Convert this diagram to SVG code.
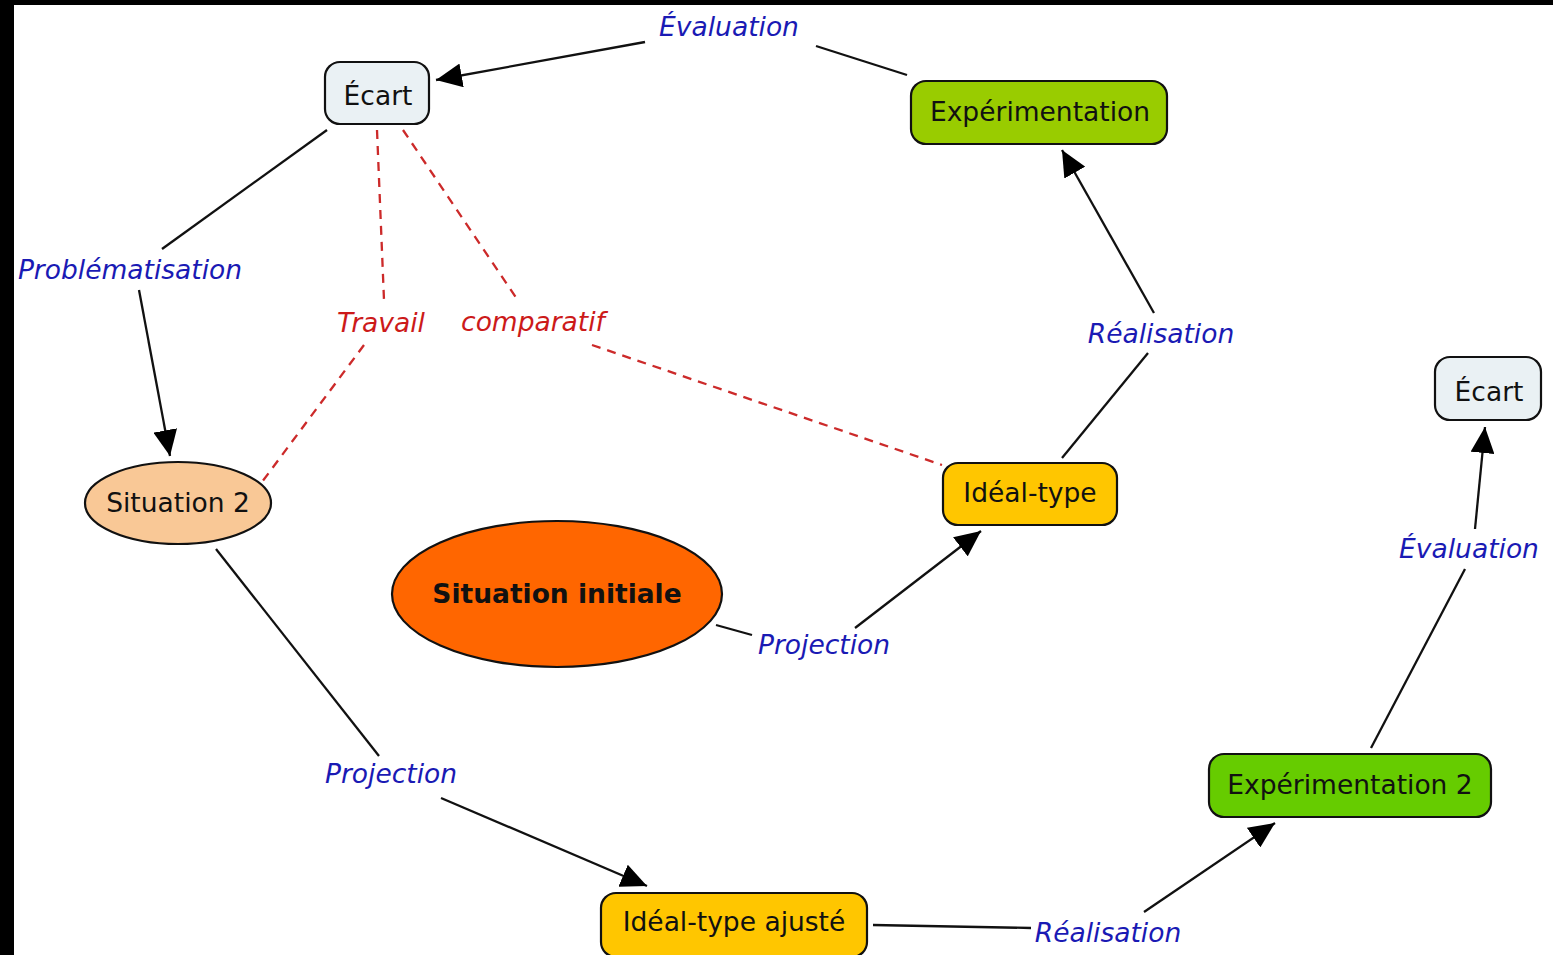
<svg xmlns="http://www.w3.org/2000/svg" width="1553" height="955" viewBox="0 0 1553 955">
<style>
.node{stroke:#111;stroke-width:2.2}
.nt{font-family:"DejaVu Sans","Verdana",sans-serif;font-size:26.5px;fill:#111;text-anchor:middle}
.lbl{font-family:"DejaVu Sans","Verdana",sans-serif;font-size:26.5px;font-style:italic;fill:#1a1ab4;text-anchor:middle}
.rl{font-family:"DejaVu Sans","Verdana",sans-serif;font-size:26.5px;font-style:italic;fill:#cc1a1a;text-anchor:middle}
.ln{stroke:#111;stroke-width:2.3;fill:none}
.dl{stroke:#cc2a2a;stroke-width:2.3;fill:none;stroke-dasharray:9 7}
</style>
<defs>
<marker id="ah" markerUnits="userSpaceOnUse" markerWidth="26" markerHeight="24" viewBox="0 0 26 24" refX="26" refY="12" orient="auto">
<path d="M0,0 L26,12 L0,24 z" fill="#000"/>
</marker>
</defs>
<rect x="0" y="0" width="1553" height="955" fill="#fff"/>
<rect x="0" y="0" width="1553" height="5" fill="#000"/>
<rect x="0" y="0" width="14" height="955" fill="#000"/>

<g id="connectors">
<line class="ln" x1="907" y1="75" x2="816" y2="46"/>
<line class="ln" x1="645" y1="42" x2="436" y2="80" marker-end="url(#ah)"/>
<line class="ln" x1="327" y1="130" x2="162" y2="249"/>
<line class="ln" x1="139" y1="290" x2="170" y2="456" marker-end="url(#ah)"/>
<line class="ln" x1="216" y1="549" x2="379" y2="756"/>
<line class="ln" x1="441" y1="798" x2="647" y2="886" marker-end="url(#ah)"/>
<line class="ln" x1="873" y1="925" x2="1031" y2="928"/>
<line class="ln" x1="1144" y1="912" x2="1275" y2="823" marker-end="url(#ah)"/>
<line class="ln" x1="1371" y1="748" x2="1465" y2="569"/>
<line class="ln" x1="1475" y1="529" x2="1485" y2="427" marker-end="url(#ah)"/>
<line class="ln" x1="716" y1="625" x2="752" y2="635"/>
<line class="ln" x1="855" y1="628" x2="981" y2="531" marker-end="url(#ah)"/>
<line class="ln" x1="1062" y1="458" x2="1148" y2="353"/>
<line class="ln" x1="1154" y1="313" x2="1062" y2="150" marker-end="url(#ah)"/>
<line class="dl" x1="377" y1="130" x2="384" y2="300"/>
<line class="dl" x1="364" y1="345" x2="262" y2="482"/>
<line class="dl" x1="403" y1="130" x2="519" y2="302"/>
<line class="dl" x1="592" y1="345" x2="942" y2="465"/>
</g>

<g id="labels">
<text class="lbl" x="729" y="36">Évaluation</text>
<text class="lbl" x="130" y="279">Problématisation</text>
<text class="rl" x="381" y="332">Travail</text>
<text class="rl" x="533" y="331">comparatif</text>
<text class="lbl" x="1161" y="343">Réalisation</text>
<text class="lbl" x="824" y="654">Projection</text>
<text class="lbl" x="1469" y="558">Évaluation</text>
<text class="lbl" x="391" y="783">Projection</text>
<text class="lbl" x="1108" y="942">Réalisation</text>
</g>

<g id="ecart1">
<rect class="node" x="325" y="62" width="104" height="62" rx="15" fill="#eaf1f4"/>
<text class="nt" x="378" y="105">Écart</text>
</g>
<g id="experimentation">
<rect class="node" x="911" y="81" width="256" height="63" rx="15" fill="#99cc00"/>
<text class="nt" x="1040" y="121">Expérimentation</text>
</g>
<g id="ideal-type">
<rect class="node" x="943" y="463" width="174" height="62" rx="15" fill="#ffc600"/>
<text class="nt" x="1030" y="502">Idéal-type</text>
</g>
<g id="ecart2">
<rect class="node" x="1435" y="357" width="106" height="63" rx="15" fill="#eaf1f4"/>
<text class="nt" x="1489" y="401">Écart</text>
</g>
<g id="situation2">
<ellipse class="node" cx="178" cy="503" rx="93" ry="41" fill="#f9c896"/>
<text class="nt" x="178" y="512">Situation 2</text>
</g>
<g id="situation-initiale">
<ellipse class="node" cx="557" cy="594" rx="165" ry="73" fill="#ff6600"/>
<text class="nt" x="557" y="603" font-weight="bold">Situation initiale</text>
</g>
<g id="experimentation2">
<rect class="node" x="1209" y="754" width="282" height="63" rx="15" fill="#66cc00"/>
<text class="nt" x="1350" y="794">Expérimentation 2</text>
</g>
<g id="ideal-type-ajuste">
<rect class="node" x="601" y="893" width="266" height="64" rx="15" fill="#ffc600"/>
<text class="nt" x="734" y="931">Idéal-type ajusté</text>
</g>
</svg>
